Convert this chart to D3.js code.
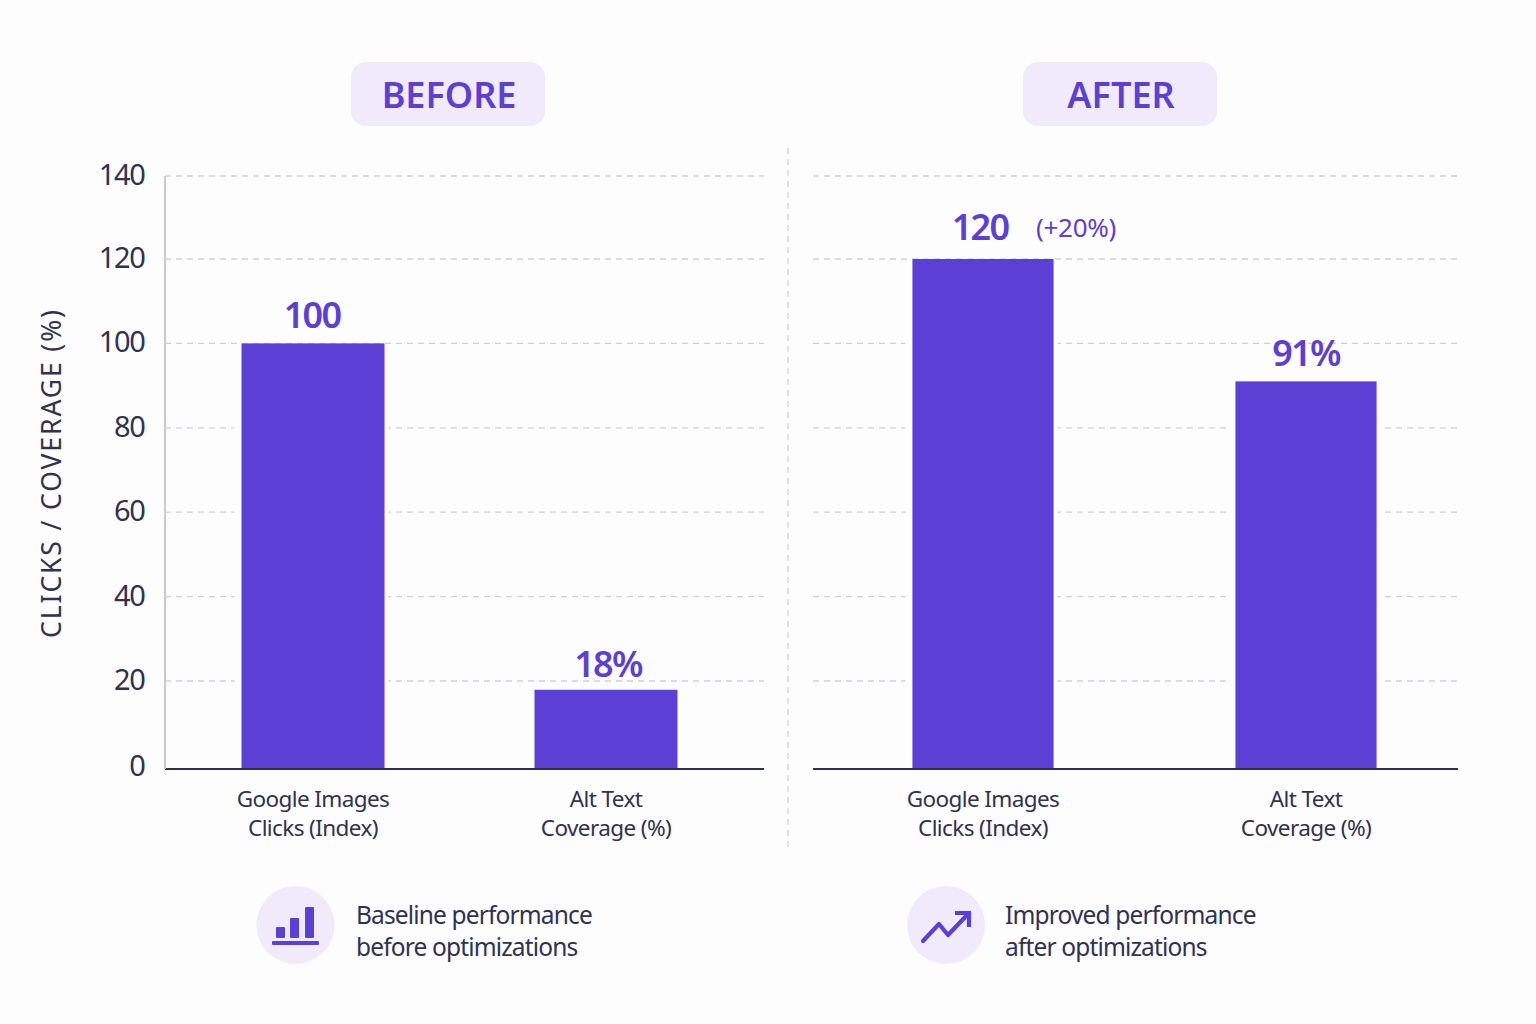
<!DOCTYPE html>
<html>
<head>
<meta charset="utf-8">
<script src="https://cdn.jsdelivr.net/npm/d3@7"></script>
<style>
html, body { margin: 0; padding: 0; background: #fdfdfe; }
svg { display: block; }
text { font-family: "Noto Sans", sans-serif; }
</style>
</head>
<body>
<div id="chart"></div>
<script>
// Values
var categories = ["Google Images|Clicks (Index)", "Alt Text|Coverage (%)"];
var beforeValues = [100, 18];
var afterValues = [120, 91];
var beforeLabels = ["100", "18%"];
var afterLabels = ["120", "91%"];
var yTicks = [0, 20, 40, 60, 80, 100, 120, 140];

var purple = "#5c40d6";
var lilac = "#f0eafa";
var ink = "#2f3252";
var grid = "#d0d0dd";
var page = "#fdfdfe";

var svg = d3.select("#chart").append("svg")
    .attr("width", 1536)
    .attr("height", 1024);

// the intervals are not quite even in the original, hence the extra stops
var y = d3.scaleLinear().domain([0, 20, 120, 140]).range([769, 681, 259, 176]);

function drawPanel(opts) {
    var g = svg.append("g");
    var x = d3.scaleBand()
        .domain(categories)
        .range(opts.band)
        .paddingInner(opts.pad)
        .paddingOuter(opts.pad / 2);

    // gridlines
    g.selectAll("line.grid")
        .data(yTicks.filter(function(d) { return d > 0; }))
      .enter().append("line")
        .attr("class", "grid")
        .attr("x1", opts.x0)
        .attr("x2", opts.x1)
        .attr("y1", function(d) { return y(d); })
        .attr("y2", function(d) { return y(d); })
        .attr("stroke", grid)
        .attr("stroke-width", 1.3)
        .attr("stroke-dasharray", "6 5");

    // bars, the page coloured outline cuts the gridlines
    g.selectAll("rect.halo")
        .data(opts.values)
      .enter().append("rect")
        .attr("class", "halo")
        .attr("x", function(d, i) { return x(categories[i]) - 7; })
        .attr("y", function(d) { return y(d) + 3; })
        .attr("width", x.bandwidth() + 11)
        .attr("height", function(d) { return y(0) - y(d) - 3; })
        .attr("fill", page);
    g.selectAll("rect.bar")
        .data(opts.values)
      .enter().append("rect")
        .attr("class", "bar")
        .attr("x", function(d, i) { return x(categories[i]); })
        .attr("y", function(d) { return y(d); })
        .attr("width", x.bandwidth())
        .attr("height", function(d) { return y(0) - y(d); })
        .attr("fill", purple);

    // baseline
    g.append("line")
        .attr("x1", opts.x0)
        .attr("x2", opts.x1)
        .attr("y1", y(0))
        .attr("y2", y(0))
        .attr("stroke", ink)
        .attr("stroke-width", 2);

    // value labels
    g.selectAll("text.val")
        .data(opts.values)
      .enter().append("text")
        .attr("class", "val")
        .attr("x", function(d, i) { return x(categories[i]) + x.bandwidth() / 2 + opts.labelDx[i]; })
        .attr("y", function(d, i) { return y(d) - 15 + opts.labelDy[i]; })
        .attr("text-anchor", "middle")
        .attr("font-size", 36)
        .attr("font-weight", 600)
        .attr("letter-spacing", -1.7)
        .attr("fill", purple)
        .text(function(d, i) { return opts.labels[i]; });

    // category labels
    categories.forEach(function(c) {
        var t = g.append("text")
            .attr("text-anchor", "middle")
            .attr("font-size", 22.5)
            .attr("letter-spacing", -0.6)
            .attr("fill", ink);
        c.split("|").forEach(function(line, i) {
            t.append("tspan")
                .attr("x", x(c) + x.bandwidth() / 2)
                .attr("y", 807 + i * 29)
                .text(line);
        });
    });

    // header pill
    svg.append("rect")
        .attr("x", opts.pill)
        .attr("y", 62)
        .attr("width", 194)
        .attr("height", 64)
        .attr("rx", 15)
        .attr("fill", lilac);
    svg.append("text")
        .attr("x", opts.pill + 98)
        .attr("y", 108)
        .attr("text-anchor", "middle")
        .attr("font-size", 36)
        .attr("font-weight", 600)
        .attr("fill", purple)
        .text(opts.title);

    // caption with round badge
    svg.append("circle")
        .attr("cx", opts.badge)
        .attr("cy", 925)
        .attr("r", 39)
        .attr("fill", lilac);
    opts.caption.forEach(function(line, i) {
        svg.append("text")
            .attr("x", opts.captionX)
            .attr("y", 924 + i * 32)
            .attr("font-size", 24.5)
            .attr("letter-spacing", -0.85)
            .attr("fill", ink)
            .text(line);
    });
}

drawPanel({
    x0: 165, x1: 764, band: [166.5, 752.5], pad: 0.512,
    values: beforeValues, labels: beforeLabels, labelDx: [-1, 2], labelDy: [0, 2],
    title: "BEFORE", pill: 351, badge: 295.5, captionX: 356,
    caption: ["Baseline performance", "before optimizations"]
});
drawPanel({
    x0: 813, x1: 1458, band: [821.5, 1467.5], pad: 0.563,
    values: afterValues, labels: afterLabels, labelDx: [-3, 0], labelDy: [-4, 0],
    title: "AFTER", pill: 1023, badge: 946, captionX: 1005,
    caption: ["Improved performance", "after optimizations"]
});

// the +20% note next to the 120 label
svg.append("text")
    .attr("x", 1036)
    .attr("y", 237)
    .attr("font-size", 26)
    .attr("letter-spacing", -0.3)
    .attr("fill", purple)
    .text("(+20%)");

// y axis, left panel only
svg.append("line")
    .attr("x1", 165)
    .attr("x2", 165)
    .attr("y1", y(140))
    .attr("y2", y(0))
    .attr("stroke", "#c8c8dc")
    .attr("stroke-width", 2);
svg.selectAll("text.tick")
    .data(yTicks)
  .enter().append("text")
    .attr("class", "tick")
    .attr("x", 144.5)
    .attr("y", function(d) { return y(d) + (d === 0 ? 6.5 : 9); })
    .attr("text-anchor", "end")
    .attr("font-size", 29)
    .attr("letter-spacing", -1.3)
    .attr("fill", ink)
    .text(function(d) { return d; });
svg.append("text")
    .attr("transform", "translate(61,473) rotate(-90)")
    .attr("text-anchor", "middle")
    .attr("font-size", 26.5)
    .attr("letter-spacing", 1.9)
    .attr("fill", ink)
    .text("CLICKS / COVERAGE (%)");

// divider between the panels
svg.append("line")
    .attr("x1", 788)
    .attr("x2", 788)
    .attr("y1", 148)
    .attr("y2", 847)
    .attr("stroke", grid)
    .attr("stroke-width", 1.3)
    .attr("stroke-dasharray", "6 5");

// bar chart icon
var icon = svg.append("g").attr("fill", purple);
icon.append("rect").attr("x", 276).attr("y", 927).attr("width", 9).attr("height", 11).attr("rx", 1);
icon.append("rect").attr("x", 290).attr("y", 918).attr("width", 9).attr("height", 20).attr("rx", 1);
icon.append("rect").attr("x", 305).attr("y", 907).attr("width", 9).attr("height", 31).attr("rx", 1);
icon.append("rect").attr("x", 272).attr("y", 941).attr("width", 47).attr("height", 4).attr("rx", 1);

// trend arrow icon
var arrow = svg.append("g")
    .attr("fill", "none")
    .attr("stroke", purple)
    .attr("stroke-width", 4.2)
    .attr("stroke-linecap", "round")
    .attr("stroke-linejoin", "round");
arrow.append("path").attr("d", "M923,941L939,924L948,935L969,913");
arrow.append("path").attr("d", "M955,913L969,913L969,927").attr("stroke-linecap", "butt").attr("stroke-linejoin", "miter");
</script>
</body>
</html>
